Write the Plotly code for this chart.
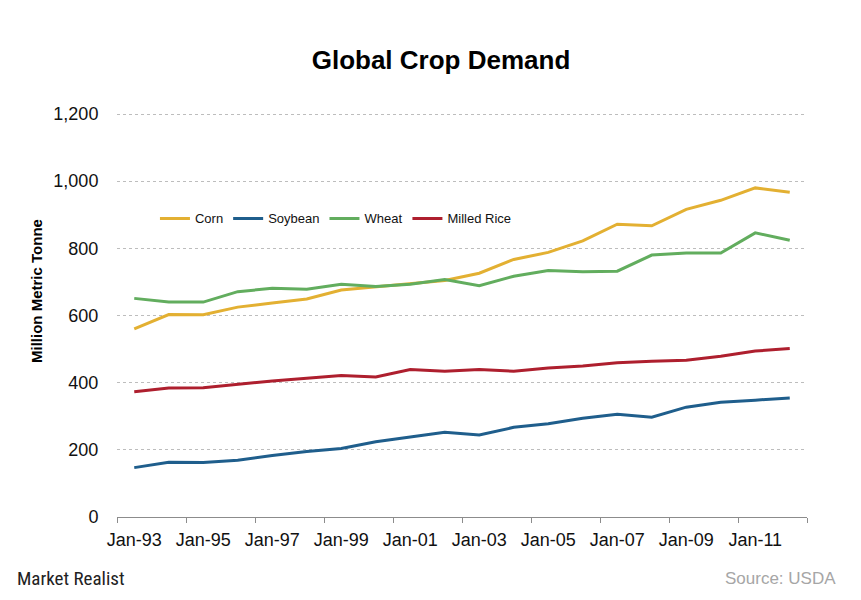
import plotly.graph_objects as go

years = ["Jan-%02d" % (y % 100) for y in range(1993, 2013)]
tick_labels = ["Jan-93", "Jan-95", "Jan-97", "Jan-99", "Jan-01",
               "Jan-03", "Jan-05", "Jan-07", "Jan-09", "Jan-11"]

corn = [560, 603, 602, 625, 637, 649, 676, 686, 695, 704,
        726, 767, 788, 822, 872, 867, 916, 943, 980, 967]
soybean = [147, 163, 162, 169, 183, 195, 204, 224, 238, 252,
           244, 267, 278, 294, 306, 297, 327, 342, 348, 354]
wheat = [651, 640, 640, 671, 681, 678, 693, 686, 693, 707,
         689, 717, 734, 730, 732, 780, 786, 786, 846, 824]
rice = [373, 384, 385, 396, 405, 413, 421, 417, 439, 434,
        439, 434, 444, 450, 459, 464, 467, 479, 494, 502]

series = [
    ("Corn", corn, "#E3B032"),
    ("Soybean", soybean, "#1F5E8C"),
    ("Wheat", wheat, "#62AD5E"),
    ("Milled Rice", rice, "#AE1F2E"),
]

n = len(years)
xidx = list(range(n))
label_pos = [years.index(t) for t in tick_labels]
boundaries = [i - 0.5 for i in range(0, n + 1, 2)]

fig = go.Figure()
for name, vals, color in series:
    fig.add_trace(go.Scatter(
        x=xidx, y=vals, name=name, mode="lines",
        line=dict(color=color, width=3),
    ))

font_family = "Liberation Sans, Arial, sans-serif"

# page body has an 8px offset; figure coordinates = screenshot coordinates - 8
W, H = 853, 592
L, T = 109, 105
PW, PH = 690, 404

fig.update_layout(
    width=W, height=H,
    margin=dict(l=L, r=W - L - PW, t=T, b=H - T - PH),
    paper_bgcolor="white", plot_bgcolor="white",
    font=dict(family=font_family, color="#111111"),
    title=dict(text="<b>Global Crop Demand</b>", x=433 / W, xanchor="center",
               y=1 - 52 / H, yanchor="middle", yref="container",
               font=dict(size=26, color="#000000", family=font_family)),
    showlegend=True,
    legend=dict(orientation="h", x=0.055, y=0.739, xanchor="left", yanchor="middle",
                font=dict(size=13, color="#111111"), bgcolor="rgba(0,0,0,0)",
                traceorder="normal"),
    xaxis=dict(
        range=[-0.5, n - 0.5],
        tickmode="array", tickvals=label_pos, ticktext=tick_labels,
        ticks="outside", ticklen=6, tickcolor="rgba(0,0,0,0)",
        tickfont=dict(size=18, color="#111111"),
        showline=True, linecolor="#8C8C8C", linewidth=1,
        showgrid=False, zeroline=False,
        minor=dict(tickmode="array", tickvals=boundaries, ticks="outside",
                   ticklen=5, tickcolor="#8C8C8C", tickwidth=1, showgrid=False),
    ),
    yaxis=dict(
        range=[0, 1203], tickmode="array",
        tickvals=[0, 200, 400, 600, 800, 1000, 1200],
        ticktext=["0", "200", "400", "600", "800", "1,000", "1,200"],
        ticks="outside", ticklen=14, tickcolor="rgba(0,0,0,0)",
        tickfont=dict(size=18, color="#111111"),
        showline=False, zeroline=False,
        showgrid=True, gridcolor="#BDBDBD", gridwidth=1, griddash="3px,3px",
    ),
    annotations=[
        dict(text="<b>Million Metric Tonne</b>", textangle=-90,
             x=(36 - 117) / PW, y=(517 - 291) / PH, xref="paper", yref="paper",
             xanchor="center", yanchor="middle", showarrow=False,
             font=dict(size=15, color="#000000")),
        dict(text="Market Realist", x=(15 - 117) / PW, y=(517 - 578) / PH,
             xref="paper", yref="paper", xanchor="left", yanchor="middle",
             showarrow=False,
             font=dict(size=19, color="#222222",
                       family="Liberation Sans Narrow, Arial Narrow, Roboto Condensed, sans-serif")),
        dict(text="Source: USDA", x=(838 - 117) / PW, y=(517 - 578) / PH,
             xref="paper", yref="paper", xanchor="right", yanchor="middle",
             showarrow=False,
             font=dict(size=17, color="#A6A6A6")),
    ],
)

fig.write_html("out.html")
